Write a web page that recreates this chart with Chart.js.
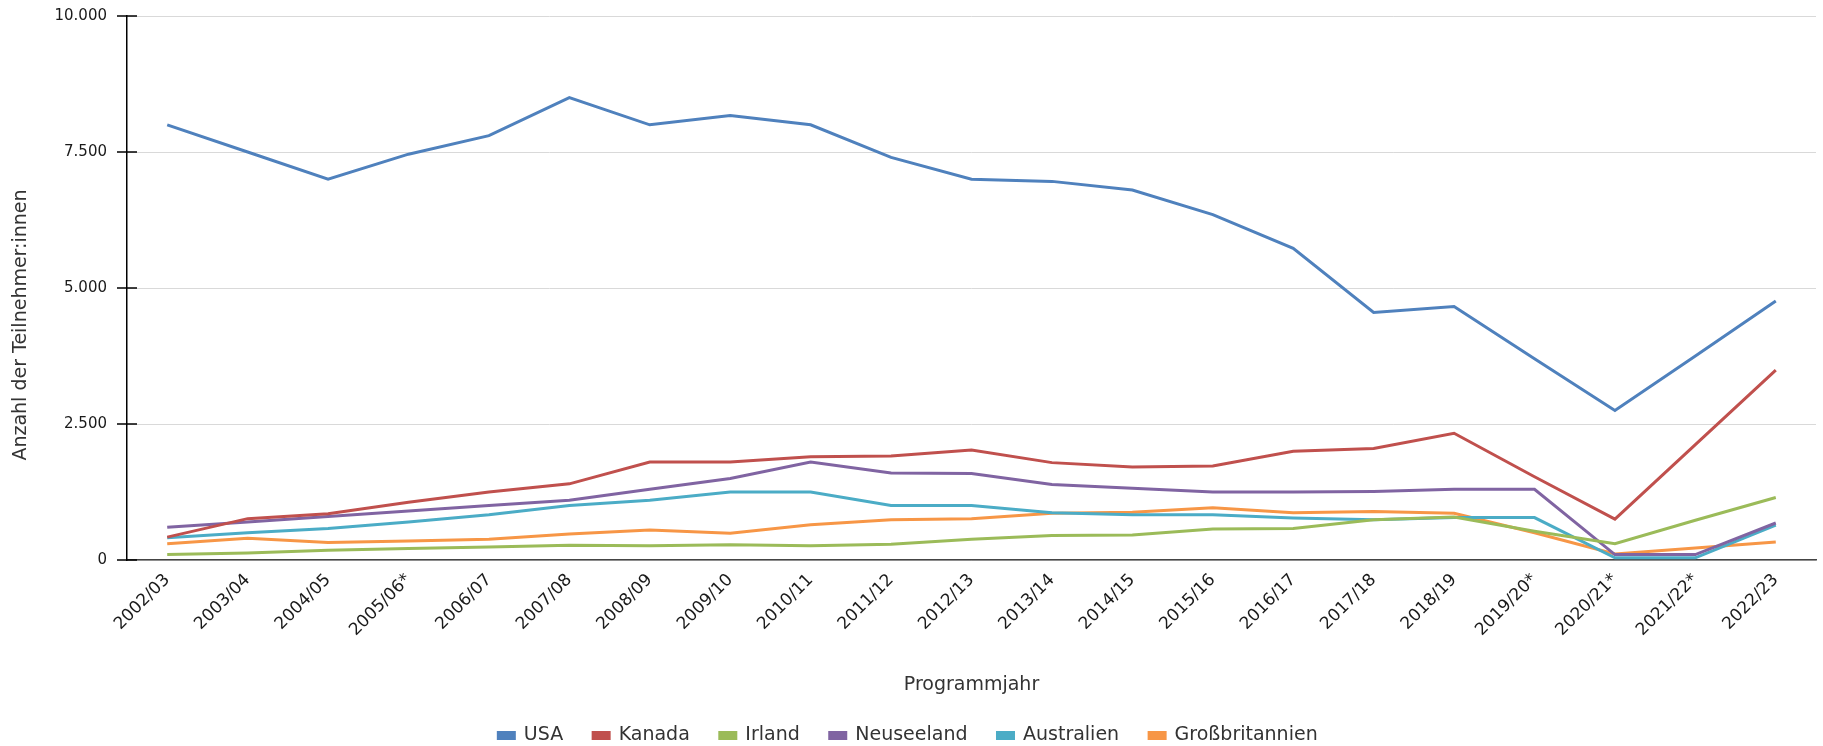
<!DOCTYPE html>
<html>
<head>
<meta charset="utf-8">
<script src="https://cdn.jsdelivr.net/npm/chart.js@4.4.1/dist/chart.umd.min.js"></script>
<style>
  html, body { margin: 0; padding: 0; background: #fff; }
</style>
</head>
<body>
<canvas id="linie" width="1823" height="746"></canvas>
<script>
// Programmjahre (x-Achse)
const jahre = ['2002/03', '2003/04', '2004/05', '2005/06*', '2006/07', '2007/08', '2008/09',
  '2009/10', '2010/11', '2011/12', '2012/13', '2013/14', '2014/15', '2015/16', '2016/17',
  '2017/18', '2018/19', '2019/20*', '2020/21*', '2021/22*', '2022/23'];

// Teilnehmer:innen pro Land
const usa = [8000, 7500, 7000, 7460, 7800, 8500, 8000, 8170, 8000, 7400, 7000, 6960, 6800, 6350, 5730, 4550, 4660, 3700, 2750, 3750, 4760];
const kanada = [420, 760, 850, 1060, 1250, 1400, 1800, 1800, 1900, 1910, 2020, 1790, 1710, 1730, 2000, 2050, 2330, 1530, 750, 2120, 3490];
const irland = [100, 130, 180, 210, 240, 270, 260, 280, 260, 290, 380, 450, 460, 570, 580, 740, 790, 530, 300, 730, 1150];
const neuseeland = [600, 700, 800, 900, 1000, 1100, 1300, 1500, 1800, 1600, 1590, 1390, 1320, 1250, 1250, 1260, 1300, 1300, 100, 100, 680];
const australien = [410, 500, 580, 700, 830, 1000, 1100, 1250, 1250, 1000, 1000, 870, 830, 830, 770, 740, 780, 780, 40, 40, 640];
const grossbritannien = [300, 400, 320, 350, 380, 480, 550, 490, 650, 740, 760, 860, 880, 960, 870, 890, 860, 500, 110, 220, 330];

// y-Achse
const yMax = 10000;
const yStep = 2500;
const yTitelText = 'Anzahl der Teilnehmer:innen';

const schrift = 'DejaVu Sans';

function tausender(v) {
  return String(v).replace(/\B(?=(\d{3})+(?!\d))/g, '.');
}

function linie(label, data, farbe) {
  return {
    label: label,
    data: data,
    borderColor: farbe,
    backgroundColor: farbe,
    borderWidth: 3,
    pointRadius: 0,
    pointHoverRadius: 0,
    tension: 0,
    fill: false
  };
}

// Striche an der y-Achse (gehen über die Achse hinaus) und der Achsentitel,
// der im Original etwas unterhalb der Mitte sitzt
const achsenStriche = {
  id: 'achsenStriche',
  afterDraw(chart) {
    const y = chart.scales.y;
    const area = chart.chartArea;
    const ctx = chart.ctx;
    ctx.save();
    ctx.strokeStyle = '#000';
    ctx.lineWidth = 1.5;
    y.ticks.forEach(t => {
      const py = y.getPixelForValue(t.value);
      ctx.beginPath();
      ctx.moveTo(y.right - 10, py);
      ctx.lineTo(y.right + 10, py);
      ctx.stroke();
    });
    ctx.translate(21, (area.top + area.bottom) / 2 + 37);
    ctx.rotate(-Math.PI / 2);
    ctx.font = '19px "' + schrift + '"';
    ctx.fillStyle = '#333';
    ctx.textAlign = 'center';
    ctx.textBaseline = 'middle';
    ctx.fillText(yTitelText, 0, 0);
    ctx.restore();
  }
};

const ctx = document.getElementById('linie').getContext('2d');
new Chart(ctx, {
  type: 'line',
  data: {
    labels: jahre,
    datasets: [
      linie('USA', usa, '#4F81BD'),
      linie('Kanada', kanada, '#C0504D'),
      linie('Irland', irland, '#9BBB59'),
      linie('Neuseeland', neuseeland, '#8064A2'),
      linie('Australien', australien, '#4BACC6'),
      linie('Großbritannien', grossbritannien, '#F79646')
    ]
  },
  plugins: [achsenStriche],
  options: {
    responsive: false,
    animation: false,
    devicePixelRatio: 1,
    layout: { padding: { left: 0, right: 7, top: 16, bottom: -9 } },
    plugins: {
      tooltip: { enabled: false },
      legend: {
        position: 'bottom',
        labels: {
          boxWidth: 16,
          boxHeight: 6,
          padding: 30,
          color: '#333',
          font: { family: schrift, size: 19 }
        }
      }
    },
    scales: {
      x: {
        offset: true,
        afterFit: s => { s.height = 136; },
        grid: { display: false, drawTicks: false },
        border: { display: true, color: '#444', width: 1.5 },
        ticks: {
          autoSkip: false,
          minRotation: 45,
          maxRotation: 45,
          padding: 10,
          color: '#1a1a1a',
          font: { family: schrift, size: 17 }
        },
        title: {
          display: true,
          text: 'Programmjahr',
          color: '#333',
          padding: { top: 0, bottom: 0 },
          font: { family: schrift, size: 19 }
        }
      },
      y: {
        min: 0,
        max: yMax,
        afterFit: s => { s.width = 127; },
        grid: { color: '#d9d9d9', lineWidth: 1, drawTicks: true, tickLength: 16, tickColor: 'rgba(0,0,0,0)' },
        border: { display: true, color: '#000', width: 1.5 },
        ticks: {
          stepSize: yStep,
          padding: 4,
          color: '#1a1a1a',
          font: { family: schrift, size: 15 },
          callback: v => tausender(v)
        }
      }
    }
  }
});
</script>
</body>
</html>
